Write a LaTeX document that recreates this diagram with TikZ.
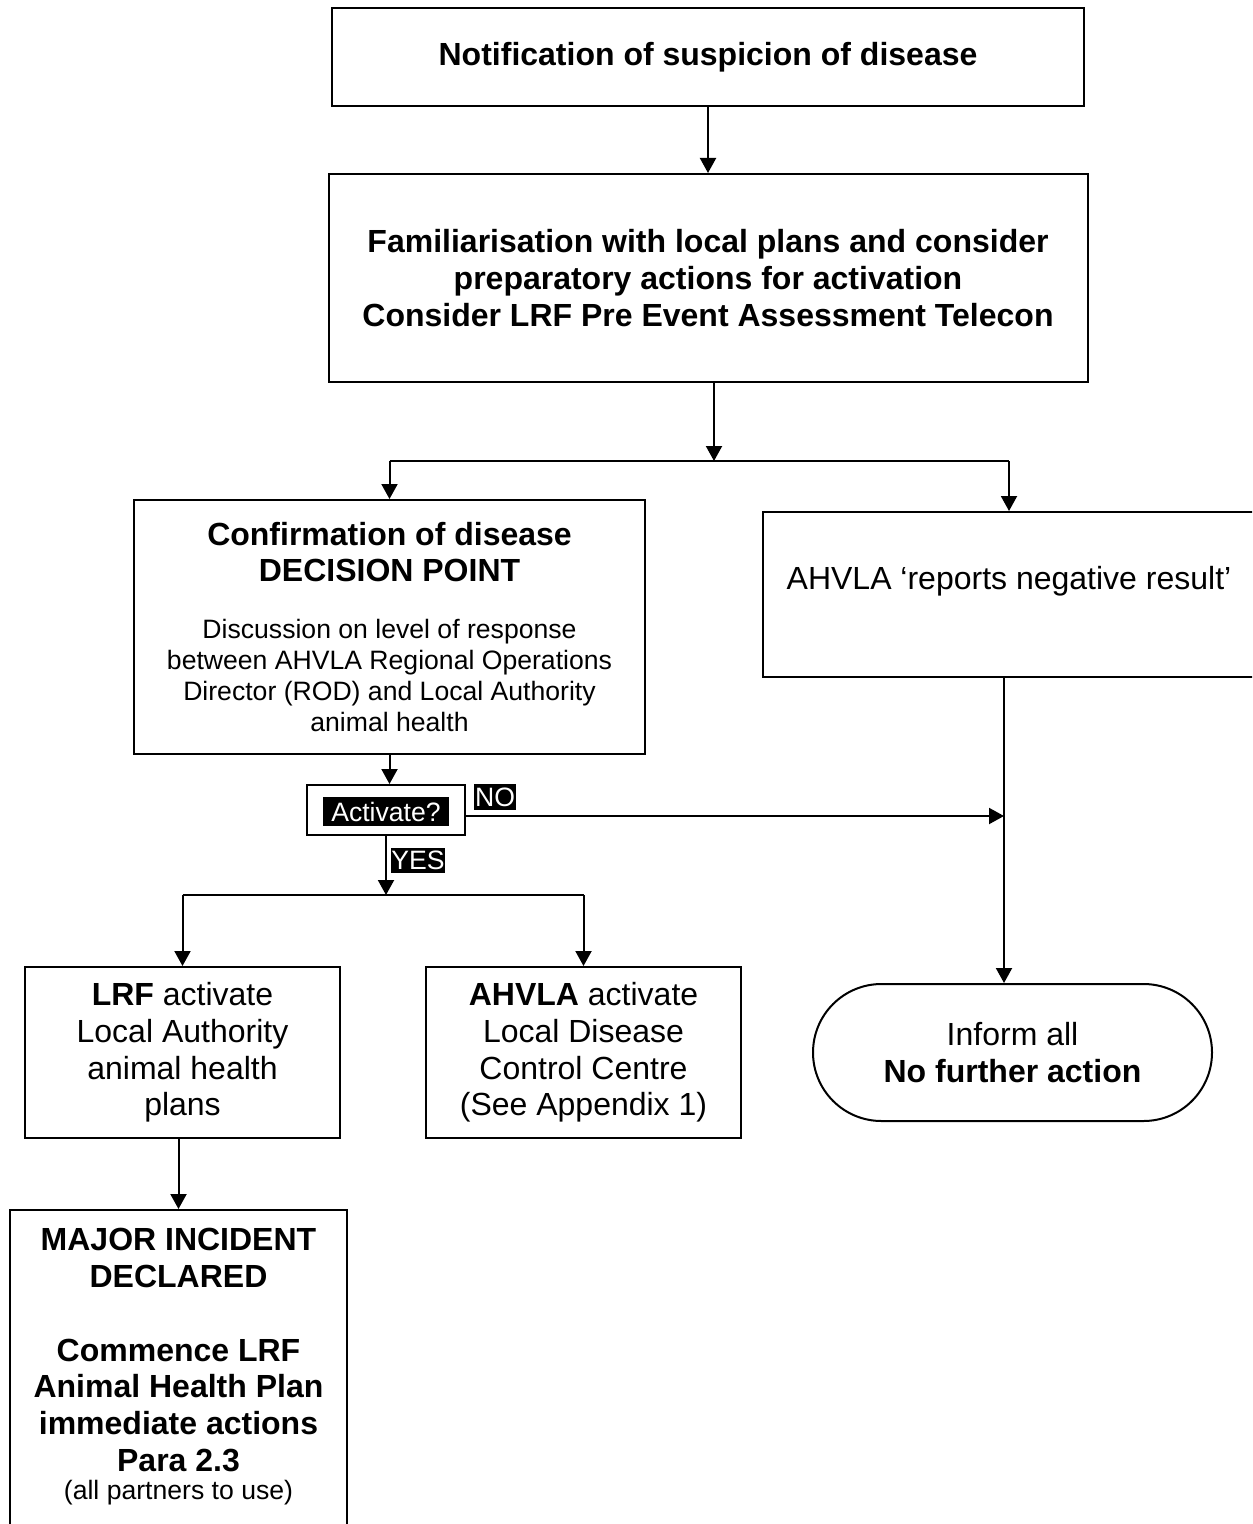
\documentclass[tikz,border=0pt]{standalone}
\usepackage{fontspec}
\setmainfont{Liberation Sans}
\usetikzlibrary{positioning,shapes.misc,arrows.meta}
\newcommand{\bigtxt}{\fontsize{16}{18.4}\selectfont}
\newcommand{\smalltxt}{\fontsize{13.3}{15.5}\selectfont}

\begin{document}
\begin{tikzpicture}[x=0.5pt,y=-0.5pt]
\tikzstyle{box}=[rectangle, draw=black, line width=1pt, align=center, font=\bigtxt, inner sep=0pt]
\tikzstyle{tag}=[rectangle, fill=black, text=white, font=\smalltxt, inner sep=0pt]
\tikzstyle{connect}=[-{Triangle[length=7.5pt,width=8pt]}, line width=1pt]
\tikzstyle{wire}=[line width=1pt]
  \useasboundingbox (0,0) rectangle (1252,1524);
  \clip (0,0) rectangle (1252,1524);
  % boxes
  \node[box, minimum width=376pt, minimum height=49pt] (notif) at (708,57) {\textbf{Notification of suspicion of disease}};
  \node[box, minimum width=379.5pt, minimum height=104pt] (famil) [below=33pt of notif] {\textbf{Familiarisation with local plans and consider}\\\textbf{preparatory actions for activation}\\\textbf{Consider LRF Pre Event Assessment Telecon}};
  \node[box, minimum width=255.5pt, minimum height=127pt] (confirm) at (389.5,627) {\textbf{Confirmation of disease}\\\textbf{DECISION POINT}\\[10pt]\smalltxt Discussion on level of response\\[-2.9pt]\smalltxt between AHVLA Regional Operations\\[-2.9pt]\smalltxt Director (ROD) and Local Authority\\[-2.9pt]\smalltxt animal health};
  \node[box, minimum width=246pt, minimum height=82.5pt] (neg) at (1009,594.5) {};
  \node[font=\bigtxt] (negtxt) at ([yshift=6.75pt]neg.center) {AHVLA ‘reports negative result’};
  \node[box, minimum width=79pt, minimum height=25pt] (activate) at (386,810) {};
  \node[tag, minimum width=63pt, minimum height=14.5pt] (acttag) at (386,811.5) {Activate?};
  \node[tag, minimum width=21pt, minimum height=13pt] (notag) at (495,797) {NO};
  \node[tag, minimum width=27pt, minimum height=12.5pt] (yestag) at (418,860.5) {YES};
  \node[box, minimum width=157.5pt, minimum height=85.5pt] (lrf) at (182.5,1052.5) {\textbf{LRF} activate\\Local Authority\\animal health\\plans};
  \node[box, minimum width=157.5pt, minimum height=85.5pt] (ahvla) [right=42pt of lrf] {\textbf{AHVLA} activate\\Local Disease\\Control Centre\\(See Appendix 1)};
  \node[box, rounded rectangle, minimum width=199.5pt, minimum height=68.5pt] (inform) at (1012.5,1052.5) {Inform all\\\textbf{No further action}};
  \node[box, minimum width=168.5pt, minimum height=176pt] (major) [below=35pt of lrf, xshift=-2pt] {};
  \node[font=\bigtxt, align=center, inner sep=0pt] (majortxt) [below=9.5pt of major.north] {\textbf{MAJOR INCIDENT}\\\textbf{DECLARED}\\[18.4pt]\textbf{Commence LRF}\\\textbf{Animal Health Plan}\\\textbf{immediate actions}\\\textbf{Para 2.3}\\[-4.5pt]\smalltxt (all partners to use)};
  % connectors
  \coordinate (split1) at (714,461);
  \coordinate (split2) at (386,895);
  \coordinate (drop) at (1004,677);
  \draw[connect] (notif.south) -- (famil.north);
  \draw[connect] (famil.south -| split1) -- (split1);
  \draw[wire] (split1 -| confirm.north) -- (split1 -| neg.north);
  \draw[connect] (split1 -| confirm.north) -- (confirm.north);
  \draw[connect] (split1 -| neg.north) -- (neg.north);
  \draw[connect] (drop) -- (drop |- inform.north);
  \draw[connect] (confirm.south) -- (confirm.south |- activate.north);
  \draw[connect] ([yshift=-3pt]activate.east) -- ([yshift=-3pt]activate.east -| drop);
  \draw[connect] (activate.south) -- (split2);
  \draw[wire] (split2 -| lrf.north) -- (split2 -| ahvla.north);
  \draw[connect] (split2 -| lrf.north) -- (lrf.north);
  \draw[connect] (split2 -| ahvla.north) -- (ahvla.north);
  \draw[connect] (major.north |- lrf.south) -- (major.north);
\end{tikzpicture}
\end{document}
